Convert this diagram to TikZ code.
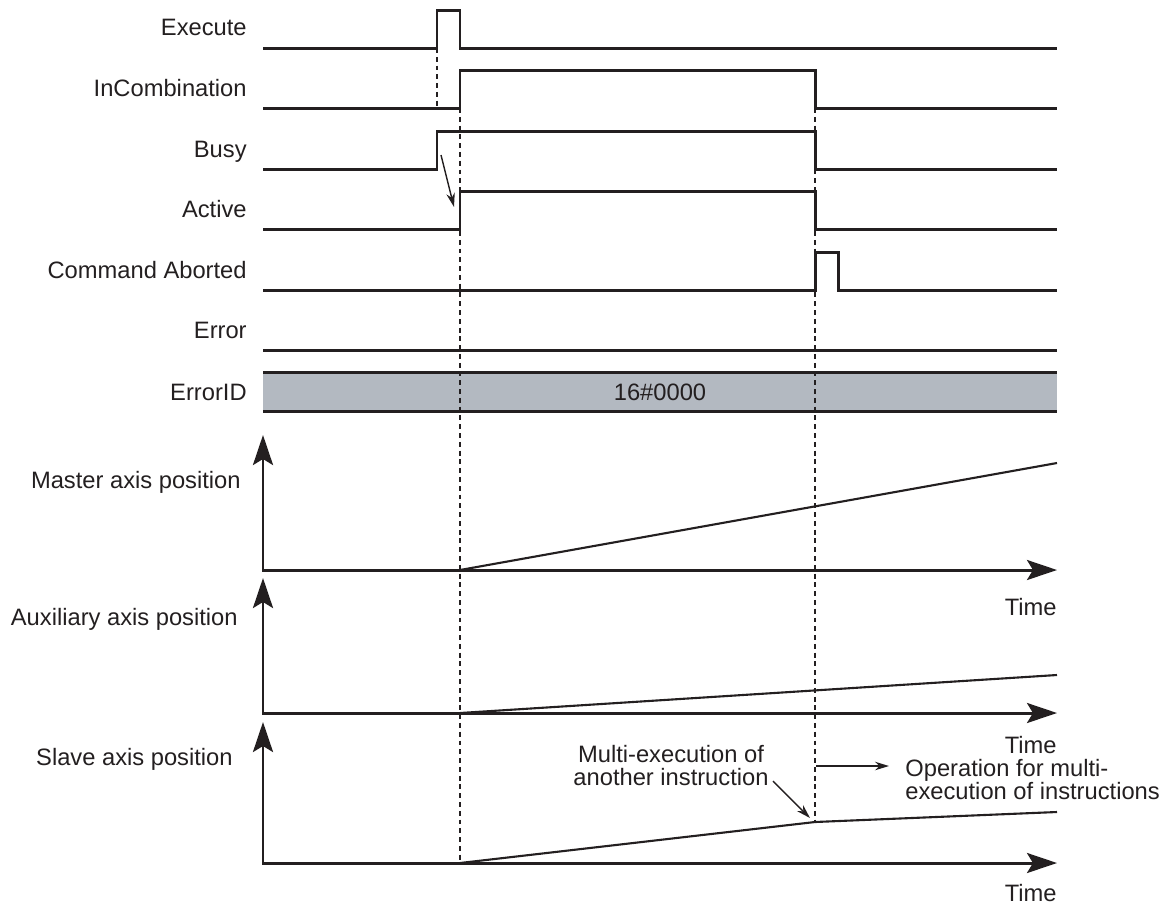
\documentclass[tikz,border=0pt]{standalone}
\usepackage{fontspec}
\setmainfont{Liberation Sans}
\usetikzlibrary{arrows.meta}
\definecolor{ink}{HTML}{231F20}
\definecolor{idgray}{HTML}{B3B9C1}
\begin{document}
\begin{tikzpicture}[x=0.02cm,y=-0.02cm,line cap=butt,line join=miter,
	every node/.style={inner sep=0,text=ink,font=\fontsize{13.5}{13.1}\selectfont},
	lbl/.style={anchor=base east},
	sig/.style={draw=ink,line width=1.7pt},
	guide/.style={draw=ink,line width=0.75pt,dash pattern=on 2.8pt off 2.2pt},
	axis/.style={draw=ink,line width=1.7pt,{Stealth[length=0.6cm,width=0.4cm,inset=0.12cm]}-{Stealth[length=0.6cm,width=0.4cm,inset=0.12cm]}},
	curve/.style={draw=ink,line width=1.2pt},
	hint/.style={draw=ink,line width=0.8pt,-{Stealth[length=0.28cm,width=0.17cm]}}]
	
	\useasboundingbox (0,0) rectangle (1170,904);
	
	% signal names
	\node[lbl] (lblexec) at (247,35.4) {Execute};
	\node[lbl] (lblincomb) at (247,96.4) {InCombination};
	\node[lbl] (lblbusy) at (247,157.4) {Busy};
	\node[lbl] (lblactive) at (247,217.4) {Active};
	\node[lbl] (lblabort) at (247,278.4) {Command Aborted};
	\node[lbl] (lblerror) at (247,338.4) {Error};
	\node[lbl] (lblerrid) at (247,400.4) {ErrorID};
	\node[lbl] (lblmaster) at (241,488.4) {Master axis position};
	\node[lbl] (lblaux) at (238,625.4) {Auxiliary axis position};
	\node[lbl] (lblslave) at (233,765.4) {Slave axis position};
	
	% waveforms
	\draw[sig] (263,48) -- (437,48) -- (437,10) -- (460,10) -- (460,48) -- (1057,48);
	\draw[sig] (263,108) -- (460,108) -- (460,70) -- (815,70) -- (815,108) -- (1057,108);
	\draw[sig] (263,169) -- (437,169) -- (437,131) -- (815,131) -- (815,169) -- (1057,169);
	\draw[sig] (263,229) -- (460,229) -- (460,191) -- (815,191) -- (815,229) -- (1057,229);
	\draw[sig] (263,290) -- (815,290) -- (815,252) -- (838,252) -- (838,290) -- (1057,290);
	\draw[sig] (263,350) -- (1057,350);
	\fill[idgray] (263,372) rectangle (1057,411);
	\draw[sig] (263,372) -- (1057,372) (263,411) -- (1057,411);
	\node[anchor=base] (valerrid) at (660,400.4) {16\#0000};
	
	% timing guides
	\draw[guide] (437,48) -- (437,108);
	\draw[guide] (460,108) -- (460,863);
	\draw[guide] (815,108) -- (815,822);
	
	\coordinate (busyup) at (441,155);
	\coordinate (activeup) at (454,207);
	\draw[hint] (busyup) -- (activeup);
	
	% position axes
	\coordinate (mtop) at (263,435);
	\coordinate (morig) at (263,570);
	\coordinate (mend) at (1057,570);
	\coordinate (atop) at (263,578);
	\coordinate (aorig) at (263,713);
	\coordinate (aend) at (1057,713);
	\coordinate (stop) at (263,722);
	\coordinate (sorig) at (263,863);
	\coordinate (send) at (1057,863);
	\draw[axis] (mtop) -- (morig) -- (mend);
	\draw[axis] (atop) -- (aorig) -- (aend);
	\draw[axis] (stop) -- (sorig) -- (send);
	
	\draw[curve] (460,570) -- (1057,463);
	\draw[curve] (460,713) -- (1057,675);
	\coordinate (slavebend) at (815,822);
	\draw[curve] (460,863) -- (slavebend) -- (1057,812);
	
	\node[anchor=base east] (time1) at (1057,615.4) {Time};
	\node[anchor=base east] (time2) at (1057,753.4) {Time};
	\node[anchor=base east] (time3) at (1057,901.4) {Time};
	
	% notes on multi-execution
	\node[anchor=north,align=center] (notemulti) at (671,745) {Multi-execution of\\another instruction};
	\node[anchor=north west,align=left] (noteop) at (905,759) {Operation for multi-\\execution of instructions};
	\coordinate (multitail) at (773,781);
	\coordinate (multihead) at (810,818);
	\draw[hint] (multitail) -- (multihead);
	\coordinate (opstart) at (816,766);
	\coordinate (opend) at (889,766);
	\draw[hint] (opstart) -- (opend);
	
\end{tikzpicture}
\end{document}
